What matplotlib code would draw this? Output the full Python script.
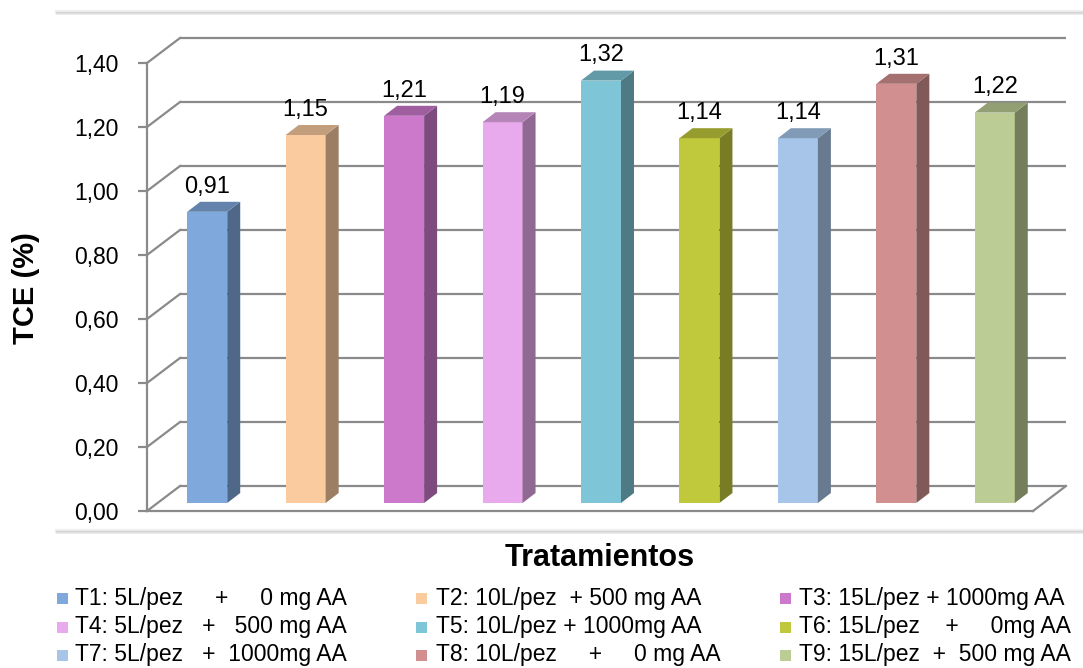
import matplotlib.pyplot as plt
import numpy as np
from matplotlib.colors import to_rgb
from matplotlib.lines import Line2D
from matplotlib.patches import Polygon, Rectangle

plt.rcParams["font.family"] = ["Liberation Sans", "DejaVu Sans"]

# Data
treatments = [
    "T1: 5L/pez     +     0 mg AA",
    "T2: 10L/pez  + 500 mg AA",
    "T3: 15L/pez + 1000mg AA",
    "T4: 5L/pez   +   500 mg AA",
    "T5: 10L/pez + 1000mg AA",
    "T6: 15L/pez    +     0mg AA",
    "T7: 5L/pez   +  1000mg AA",
    "T8: 10L/pez     +     0 mg AA",
    "T9: 15L/pez  +  500 mg AA",
]
tce = [0.91, 1.15, 1.21, 1.19, 1.32, 1.14, 1.14, 1.31, 1.22]
y_ticks = [0.0, 0.2, 0.4, 0.6, 0.8, 1.0, 1.2, 1.4]
bar_colors = ["#7fa8dc", "#facb9f", "#cc79cc", "#e8aaec", "#7ec5d8",
              "#c0c83b", "#a6c5e9", "#d28f8f", "#bbcc94"]


def comma(v):
    return f"{v:.2f}".replace(".", ",")


def shade(color, factor):
    return tuple(c * factor for c in to_rgb(color))


W, H = 1083, 668
fig = plt.figure(figsize=(W / 100, H / 100), dpi=100)
ax = fig.add_axes([147 / W, (H - 511) / H, (1033 - 147) / W, (511 - 63) / H])
ax.set_xlim(-0.5, 8.5)
ax.set_ylim(0, 1.4)

# pseudo-3D geometry, in data units
px_x = 886 / 9      # pixels per category
px_y = 448 / 1.4    # pixels per value unit
wall_dx, wall_dy = 33 / px_x, 25 / px_y
plane_dx, plane_dy = 11 / px_x, 8 / px_y
depth_dx, depth_dy = 13 / px_x, 10 / px_y
bar_w = 40 / px_x

grid_c = "#8a8a8a"
x0, x1 = ax.get_xlim()

# back wall gridlines and left wall diagonals
for v in y_ticks:
    ax.plot([x0 + wall_dx, x1 + wall_dx], [v + wall_dy, v + wall_dy],
            color=grid_c, lw=1.6, clip_on=False, zorder=1, solid_capstyle="butt")
    ax.plot([x0, x0 + wall_dx], [v, v + wall_dy],
            color=grid_c, lw=1.6, clip_on=False, zorder=1)
# floor right edge
ax.plot([x1, x1 + wall_dx], [0, wall_dy], color=grid_c, lw=1.6, clip_on=False, zorder=1)

for sp in ["top", "right"]:
    ax.spines[sp].set_visible(False)
for sp in ["left", "bottom"]:
    ax.spines[sp].set_color(grid_c)
    ax.spines[sp].set_linewidth(1.6)
    ax.spines[sp].set_zorder(1)

ax.set_xticks([])
ax.set_yticks(y_ticks)
ax.set_yticklabels([comma(v) for v in y_ticks])
ax.tick_params(axis="y", length=6.5, width=1.6, color=grid_c, pad=14, labelsize=16.5)

# columns
x = np.arange(len(tce))
for xi, v, c in zip(x, tce, bar_colors):
    xl = xi + plane_dx - bar_w / 2
    xr = xl + bar_w
    b = plane_dy
    ax.add_patch(Rectangle((xl, b), bar_w, v, facecolor=c, edgecolor="none",
                           zorder=3, clip_on=False))
    side = [(xr, b), (xr + depth_dx, b + depth_dy),
            (xr + depth_dx, b + v + depth_dy), (xr, b + v)]
    ax.add_patch(Polygon(side, closed=True, facecolor=shade(c, 0.62),
                         edgecolor="none", zorder=3, clip_on=False))
    top = [(xl, b + v), (xr, b + v), (xr + depth_dx, b + v + depth_dy),
           (xl + depth_dx, b + v + depth_dy)]
    ax.add_patch(Polygon(top, closed=True, facecolor=shade(c, 0.78),
                         edgecolor="none", zorder=3, clip_on=False))
    ax.annotate(comma(v), (xi + plane_dx, b + v + depth_dy), xytext=(0, 3),
                textcoords="offset points", ha="center", va="bottom",
                fontsize=17, color="black", zorder=4, annotation_clip=False)

# axis titles
fig.text(26 / W, 1 - 288 / H, "TCE (%)", rotation=90, ha="center", va="center",
         fontsize=21, fontweight="bold")
fig.text(600 / W, 1 - 558 / H, "Tratamientos", ha="center", va="center",
         fontsize=22, fontweight="bold")

# soft chart-area border
for yy in (13, 532):
    for off, col, lw in ((-1.5, "#f0f0f0", 3.0), (0, "#d2d2d2", 1.6), (1.2, "#e6e6e6", 1.2)):
        fig.add_artist(Line2D([57 / W, 1], [1 - (yy + off) / H] * 2,
                              transform=fig.transFigure, color=col, lw=lw, zorder=0))

# legend, three entries per row
col_sq = [57, 416, 780]
col_tx = [75, 436, 799]
row_y = [598, 627, 655]
for i, (lab, c) in enumerate(zip(treatments, bar_colors)):
    r, k = divmod(i, 3)
    fig.add_artist(Rectangle((col_sq[k] / W, 1 - (row_y[r] + 5.5) / H), 11 / W, 11 / H,
                             transform=fig.transFigure, facecolor=c, edgecolor="none"))
    fig.text(col_tx[k] / W, 1 - row_y[r] / H, lab, ha="left", va="center", fontsize=16.5)

fig.savefig("out.png", dpi=100)
